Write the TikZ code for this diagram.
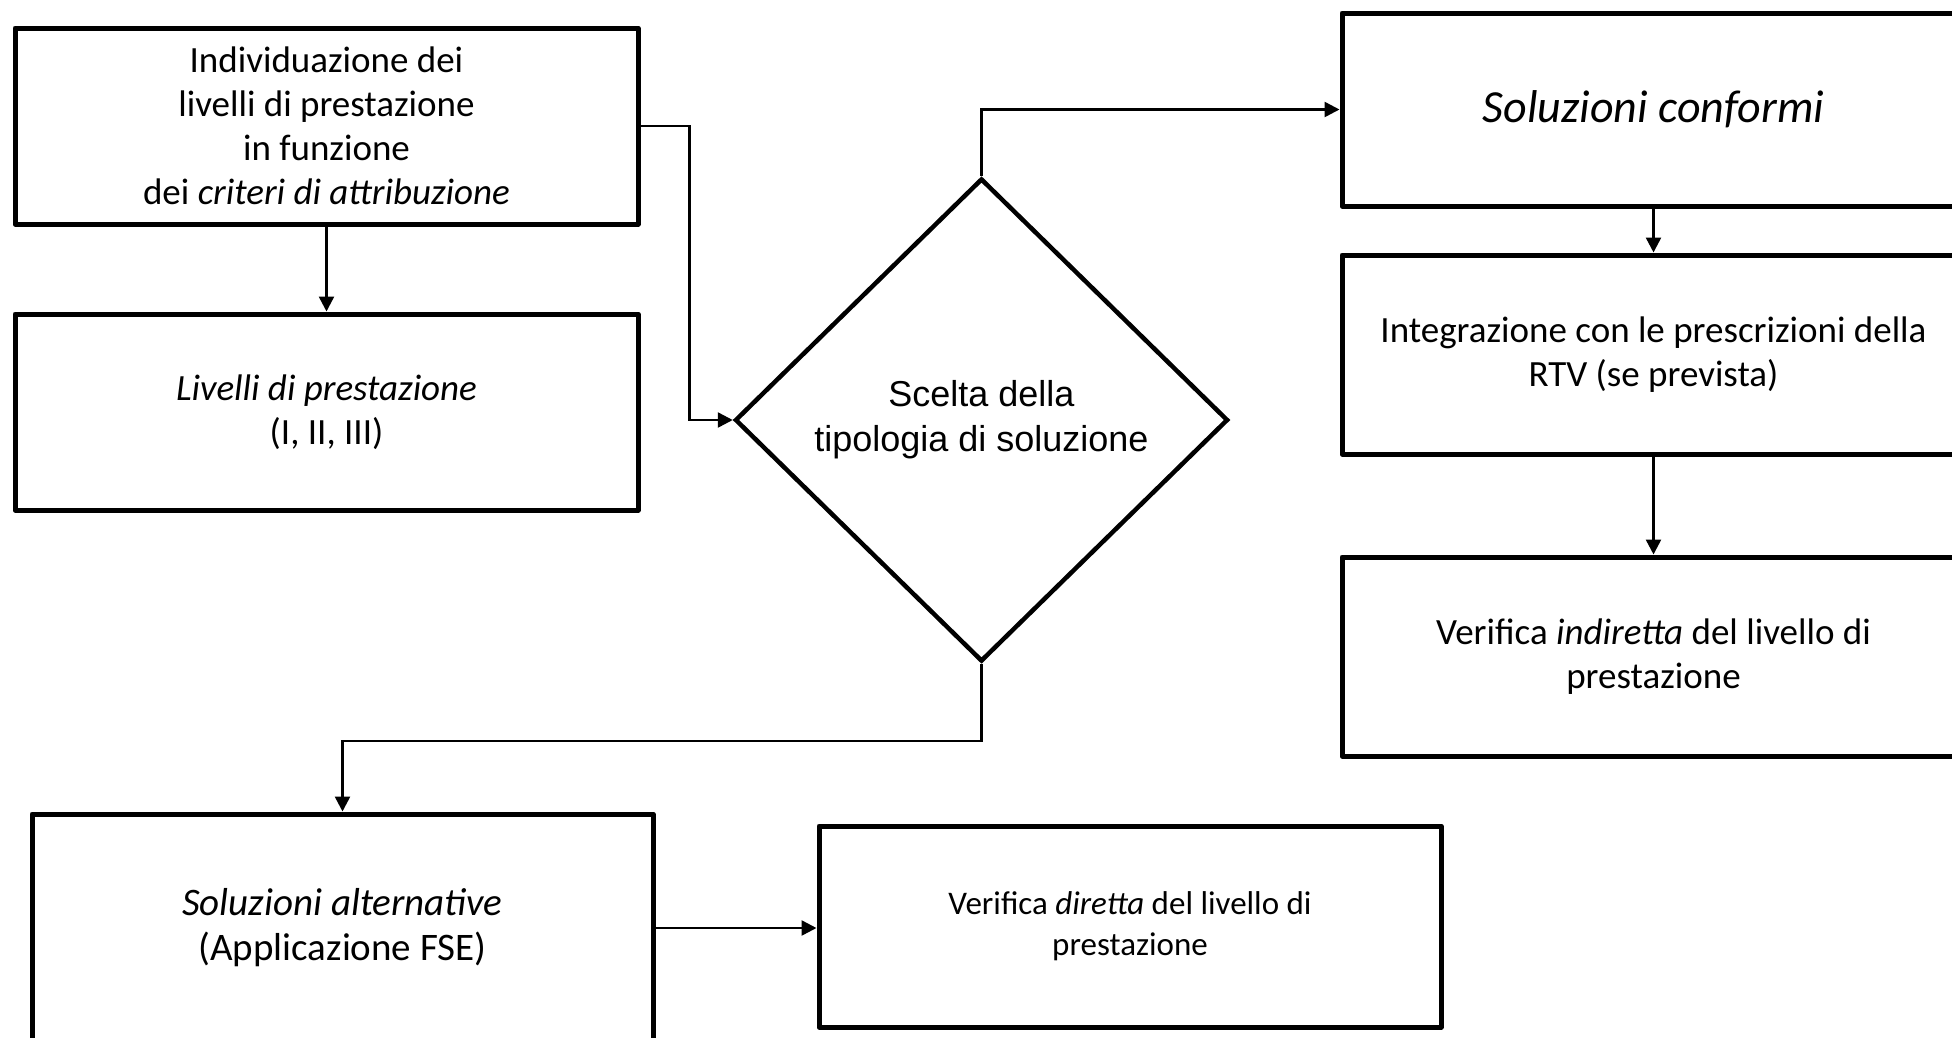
\documentclass[tikz,border=0pt]{standalone}
\usepackage{fontspec}
\setmainfont{Carlito}
\newfontfamily\arialf{Liberation Sans}
\usetikzlibrary{arrows.meta,shapes.geometric}
\tikzset{
  boxnode/.style={draw, line width=5pt, line join=round, inner sep=0pt, align=center,
    minimum width=623pt, font=\fontsize{37}{44}\selectfont},
  decision/.style={draw, diamond, line width=4.5pt, inner sep=0pt, align=center,
    minimum width=493pt, minimum height=483pt, font=\arialf\fontsize{36}{45}\selectfont},
  conn/.style={line width=2.5pt, -{Triangle[length=15pt,width=15pt]}}
}
\begin{document}
\begin{tikzpicture}[x=1pt,y=-1pt]
\useasboundingbox (0,0) rectangle (1952,1037);
\fill[white] (0,0) rectangle (1952,1037);
\clip (0,0) rectangle (1952,1037);

\node[boxnode, minimum height=196pt] (b1) at (326.5,126)
  {Individuazione dei\\livelli di prestazione\\in funzione\\dei \textit{criteri di attribuzione}};
\node[boxnode, minimum height=196pt] (b2) at (326.5,412)
  {\textit{Livelli di prestazione}\\(I, II, III)};
\node[decision] (d) at (981.5,420) {Scelta della\\tipologia di soluzione};
\node[boxnode, minimum height=193pt, font=\fontsize{46}{54}\selectfont] (b3) at (1653.5,109.5)
  {\textit{Soluzioni conformi}};
\node[boxnode, minimum height=199pt] (b4) at (1653.5,354.5)
  {Integrazione con le prescrizioni della\\RTV (se prevista)};
\node[boxnode, minimum height=199pt] (b5) at (1653.5,656.5)
  {Verifica \textit{indiretta} del livello di\\prestazione};
\node[boxnode, minimum width=621pt, minimum height=228pt, font=\fontsize{39}{45}\selectfont] (b6) at (342.5,928)
  {\textit{Soluzioni alternative}\\(Applicazione FSE)};
\node[boxnode, minimum width=622pt, minimum height=201pt, font=\fontsize{33}{41}\selectfont] (b7) at (1130,926.5)
  {Verifica \textit{diretta} del livello di\\prestazione};

\draw[conn] (b1.south) -- (b2.north);
\draw[conn] (b1.east) -- ([xshift=49pt]b1.east) |- (d.west);
\draw[conn] (d.north) |- (b3.west);
\draw[conn] (b3.south) -- (b4.north);
\draw[conn] (b4.south) -- (b5.north);
\draw[conn] (d.south) -- ++(0,77) -| (b6.north);
\draw[conn] (b6.east) -- (b6.east -| b7.west);
\end{tikzpicture}
\end{document}
